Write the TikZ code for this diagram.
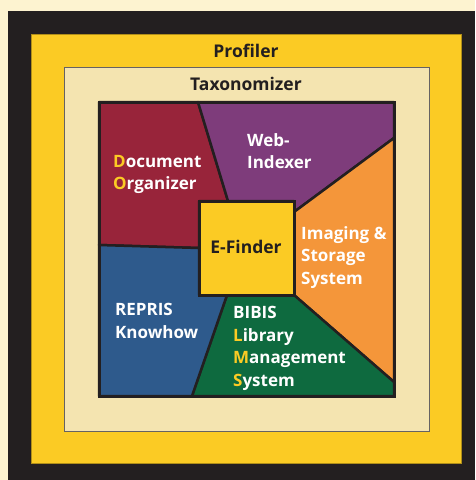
\documentclass[tikz,border=0pt]{standalone}
\usepackage{fontspec}
\setmainfont{Open Sans}
\usetikzlibrary{calc}

\definecolor{cream}{HTML}{FDF3D0}
\definecolor{frame}{HTML}{231F20}
\definecolor{gold}{HTML}{FBCB24}
\definecolor{beige}{HTML}{F4E4B0}
\definecolor{wine}{HTML}{98243A}
\definecolor{plum}{HTML}{7E3C7B}
\definecolor{tangerine}{HTML}{F4963A}
\definecolor{navy}{HTML}{2E5A8C}
\definecolor{forest}{HTML}{0E6A3F}

\newcommand{\hl}[1]{\textcolor{gold}{#1}}

\begin{document}
\begin{tikzpicture}[x=1pt, y=-1pt,
    region/.style ={draw=frame, line width=2.5pt, line join=round},
    title/.style ={font=\fontsize{17.5}{20}\selectfont\bfseries, text=frame},
    label/.style ={font=\fontsize{17}{22.5}\selectfont\bfseries, text=white, align=left, anchor=north west, inner sep=0pt}]
   \useasboundingbox (0,0) rectangle (475,480);
   \fill[cream] (0,0) rectangle (475,480);
   \fill[frame] (8,11) rectangle (475,480);
   \filldraw[fill=gold, draw=gold!70!black, line width=0.6pt] (31,34) rectangle (461,463);
   \filldraw[fill=beige, draw=frame!70, line width=0.8pt] (64,67) rectangle (429,431);

   \node[title] (profiler) at (246,51) {Profiler};
   \node[title] (taxonomizer) at (246,84) {Taxonomizer};

   % corners of the inner square and the split points
   \coordinate (TL) at (99,102);
   \coordinate (TR) at (394,102);
   \coordinate (BR) at (394,396);
   \coordinate (BL) at (99,396);
   \coordinate (EA) at (199,201);
   \coordinate (EB) at (294,201);
   \coordinate (EC) at (294,295);
   \coordinate (ED) at (199,295);
   \coordinate (a) at (198,102);
   \coordinate (b) at (228,201);
   \coordinate (c) at (294,212);
   \coordinate (d) at (394,138);
   \coordinate (f) at (394,382);
   \coordinate (g) at (227,295);
   \coordinate (h) at (192,396);
   \coordinate (i) at (199,248);
   \coordinate (j) at (99,245);

   \filldraw[region, fill=wine] (TL) -- (a) -- (b) -- (EA) -- (i) -- (j) -- cycle;
   \filldraw[region, fill=plum] (a) -- (TR) -- (d) -- (c) -- (EB) -- (b) -- cycle;
   \filldraw[region, fill=tangerine] (d) -- (f) -- (EC) -- (c) -- cycle;
   \filldraw[region, fill=forest] (EC) -- (f) -- (BR) -- (h) -- (g) -- cycle;
   \filldraw[region, fill=navy] (j) -- (i) -- (ED) -- (g) -- (h) -- (BL) -- cycle;
   \draw[frame, line width=3pt] (TL) rectangle (BR);
   \filldraw[fill=gold, draw=frame, line width=3pt] (EA) rectangle (EC);

   \node[title] (finder) at (246,247) {E-Finder};
   \node[label] (docorg) at (113,155) {\hl{D}ocument\\\hl{O}rganizer};
   \node[label] (webidx) at (247,133) {Web-\\Indexer};
   \node[label] (imaging) at (301,226) {Imaging \&\\Storage\\System};
   \node[label] (repris) at (115,303) {REPRIS\\Knowhow};
   \node[label] (bibis) at (233,306) {BIBIS\\\hl{L}ibrary\\\hl{M}anagement\\\hl{S}ystem};
 \end{tikzpicture}
\end{document}
